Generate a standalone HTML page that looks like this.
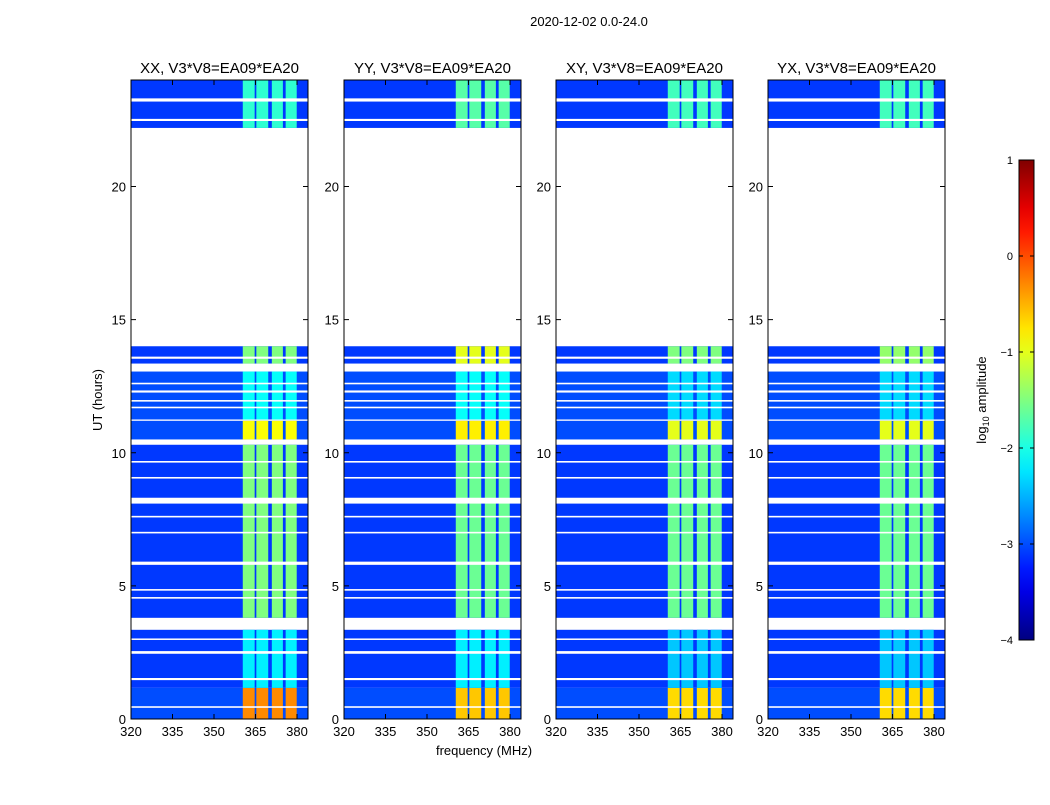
<!DOCTYPE html>
<html><head><meta charset="utf-8">
<style>
body{margin:0;background:#fff;width:1050px;height:800px;overflow:hidden;font-family:"Liberation Sans",sans-serif}
svg text{font-family:"Liberation Sans","DejaVu Sans",sans-serif}
</style></head>
<body>
<svg id="fig" width="1050" height="800" xmlns="http://www.w3.org/2000/svg">
<text x="589" y="26" font-size="13" text-anchor="middle">2020-12-02 0.0-24.0</text>
<text x="484" y="755" font-size="13" text-anchor="middle">frequency (MHz)</text>
<text x="102" y="400" font-size="13" text-anchor="middle" transform="rotate(-90 102 400)">UT (hours)</text>
<g id="panels"></g>
<g id="cbar"></g>
</svg>
<script>
const panelTitles = ["XX, V3*V8=EA09*EA20","YY, V3*V8=EA09*EA20","XY, V3*V8=EA09*EA20","YX, V3*V8=EA09*EA20"];
const segments = [[0,1.17],[1.17,3.35],[3.8,10.3],[10.5,11.2],[11.25,13.05],[13.35,14.0],[22.2,24]];
const bgLevel = [-3.0,-3.1,-3.1,-3.0,-3.0,-3.1,-3.1];
const bandXX = [-0.3,-2.2,-1.5,-0.9,-2.1,-1.5,-1.9];
const bandYY = [-0.6,-2.2,-1.6,-0.8,-2.1,-1.0,-1.7];
const bandXY = [-0.7,-2.4,-1.6,-1.0,-2.3,-1.5,-1.8];
const bandYX = [-0.7,-2.4,-1.6,-1.0,-2.3,-1.4,-1.8];
const subbands = [[360.4,364.7],[365.3,369.6],[370.9,374.9],[375.9,379.9]];
const gapLines = [[0.45,0.06],[1.5,0.08],[2.5,0.1],[3.0,0.05],[4.55,0.06],[4.85,0.06],[5.85,0.12],[7.0,0.06],[7.6,0.06],[8.2,0.22],[9.06,0.06],[9.66,0.06],[11.7,0.06],[11.95,0.06],[12.3,0.08],[12.6,0.06],[13.57,0.08],[22.5,0.08],[23.25,0.12]];
const xTicks = [320,335,350,365,380];
const yTicks = [0,5,10,15,20];
const cbarTicks = [1,0,-1,-2,-3,-4];
const bands = [bandXX,bandYY,bandXY,bandYX];
const panelLeft = [131,344,556,768];

const NS="http://www.w3.org/2000/svg";
function mk(tag,attrs,parent){const e=document.createElementNS(NS,tag);for(const k in attrs)e.setAttribute(k,attrs[k]);parent.appendChild(e);return e;}
function jet(v){
  let t=(v+4)/5; t=Math.max(0,Math.min(1,t));
  const f=x=>Math.max(0,Math.min(1,x));
  const r=f(1.5-Math.abs(4*t-3)), g=f(1.5-Math.abs(4*t-2)), b=f(1.5-Math.abs(4*t-1));
  return `rgb(${Math.round(r*255)},${Math.round(g*255)},${Math.round(b*255)})`;
}
const W=177, yTop=80, yBot=719;
const yS=h=>yBot-(h/24)*(yBot-yTop);
const xS=(x0,f)=>x0+(f-320)*(41.5/15);
const panels=document.getElementById('panels');
panelLeft.forEach((x0,p)=>{
  const g=mk('g',{},panels);
  
  
  const t=mk('text',{x:x0+W/2,y:73,'font-size':15,'text-anchor':'middle'},g);
  t.textContent=panelTitles[p];
  
  
  segments.forEach((s,i)=>{
    const r=mk('rect',{x:x0,y:yS(s[1]),width:W,height:yS(s[0])-yS(s[1]),fill:jet(bgLevel[i])},g);
    
    
    subbands.forEach(sb=>{
      const c=mk('rect',{x:xS(x0,sb[0]),y:yS(s[1]),width:xS(x0,sb[1])-xS(x0,sb[0]),height:yS(s[0])-yS(s[1]),fill:jet(bands[p][i])},g);
      
      
    });
  });
  gapLines.forEach(l=>{
    const r=mk('rect',{x:x0,y:yS(l[0]+l[1]/2),width:W,height:Math.max(1.5,yS(l[0]-l[1]/2)-yS(l[0]+l[1]/2)),fill:'#fff'},g);
    
    
  });
  const fr=mk('rect',{x:x0,y:yTop,width:W,height:yBot-yTop,fill:'none',stroke:'#000','stroke-width':1},g);
  
  
  xTicks.forEach(v=>{
    const x=xS(x0,v);
    mk('line',{x1:x,x2:x,y1:yBot,y2:yBot-5,stroke:'#000'},g);
    mk('line',{x1:x,x2:x,y1:yTop,y2:yTop+5,stroke:'#000'},g);
    const tl=mk('text',{x:x,y:yBot+17,'font-size':13,'text-anchor':'middle'},g);
    tl.textContent=v;
    
    
  });
  yTicks.forEach(v=>{
    const y=yS(v);
    mk('line',{x1:x0,x2:x0+5,y1:y,y2:y,stroke:'#000'},g);
    mk('line',{x1:x0+W,x2:x0+W-5,y1:y,y2:y,stroke:'#000'},g);
    const tl=mk('text',{x:x0-5,y:y+5,'font-size':13,'text-anchor':'end'},g);
    tl.textContent=v;
    
    
  });
});
const cb=document.getElementById('cbar');


const cTop=160,cBot=640,cx=1019,cw=15;
const defs=mk('defs',{},cb);
const grad=mk('linearGradient',{id:'jg',x1:0,y1:1,x2:0,y2:0},defs);
for(let i=0;i<=20;i++){mk('stop',{offset:i/20,'stop-color':jet(-4+5*i/20)},grad);}
mk('rect',{x:cx,y:cTop,width:cw,height:cBot-cTop,fill:'url(#jg)',stroke:'#000'},cb);
cbarTicks.forEach(v=>{
  const y=cBot-(v+4)/5*(cBot-cTop);
  mk('line',{x1:cx,x2:cx+4,y1:y,y2:y,stroke:'#000'},cb);
  mk('line',{x1:cx+cw,x2:cx+cw-4,y1:y,y2:y,stroke:'#000'},cb);
  const tl=mk('text',{x:cx-6,y:y+4,'font-size':11,'text-anchor':'end'},cb);
  tl.textContent=v<0?'\u2212'+(-v):String(v);
  
  
});
const cl=mk('text',{x:986,y:400,'font-size':13,'text-anchor':'middle',transform:'rotate(-90 986 400)'},cb);


const t1=mk('tspan',{},cl); t1.textContent='log';
const t2=mk('tspan',{'font-size':9,dy:3},cl); t2.textContent='10';
const t3=mk('tspan',{dy:-3},cl); t3.textContent=' amplitude';
</script>
</body></html>
